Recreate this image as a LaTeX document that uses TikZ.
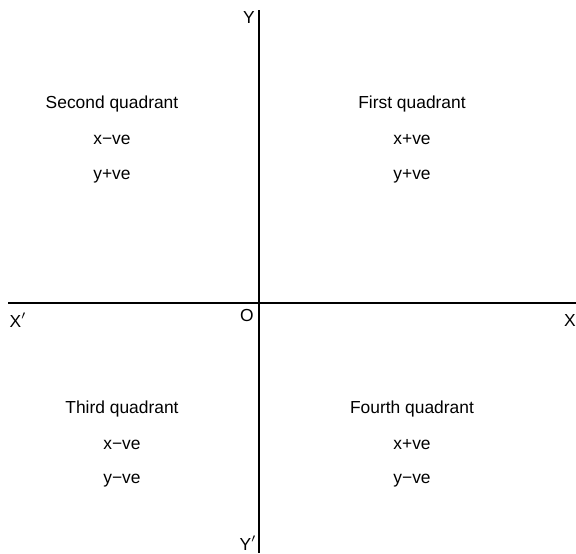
\documentclass[tikz,border=0pt]{standalone}
\usepackage{fontspec}
\setmainfont{Liberation Sans}
\usepackage{tikz}
\usetikzlibrary{positioning}

\begin{document}
\begin{tikzpicture}[x=0.5pt, y=-0.5pt,
  lbl/.style={inner sep=1pt, font=\fontsize{8.7}{10}\selectfont},
  axis/.style={line width=0.8pt, black}
]
  \useasboundingbox (0,0) rectangle (576,553);

  \coordinate (xl) at (8,303);
  \coordinate (xr) at (576,303);
  \coordinate (yt) at (259,10);
  \coordinate (yb) at (259,553);

  \draw[axis] (xl) -- (xr);
  \draw[axis] (yt) -- (yb);

  \node[lbl] (xneg) at (18,320) {X$'$};
  \node[lbl] (xpos) at (570,320) {X};
  \node[lbl] (ypos) at (249,18) {Y};
  \node[lbl] (yneg) at (248,543) {Y$'$};
  \node[lbl] (orig) at (247,315) {O};

  \node[lbl] (q2) at (112,104) {Second quadrant};
  \node[lbl, below=18pt of q2.center, anchor=center] (q2x) {x−ve};
  \node[lbl, below=18pt of q2x.center, anchor=center] (q2y) {y+ve};

  \node[lbl] (q1) at (412,104) {First quadrant};
  \node[lbl, below=18pt of q1.center, anchor=center] (q1x) {x+ve};
  \node[lbl, below=18pt of q1x.center, anchor=center] (q1y) {y+ve};

  \node[lbl] (q3) at (122,409) {Third quadrant};
  \node[lbl, below=18pt of q3.center, anchor=center] (q3x) {x−ve};
  \node[lbl, below=18pt of q3x.center, anchor=center] (q3y) {y−ve};

  \node[lbl] (q4) at (412,409) {Fourth quadrant};
  \node[lbl, below=18pt of q4.center, anchor=center] (q4x) {x+ve};
  \node[lbl, below=18pt of q4x.center, anchor=center] (q4y) {y−ve};
\end{tikzpicture}
\end{document}
